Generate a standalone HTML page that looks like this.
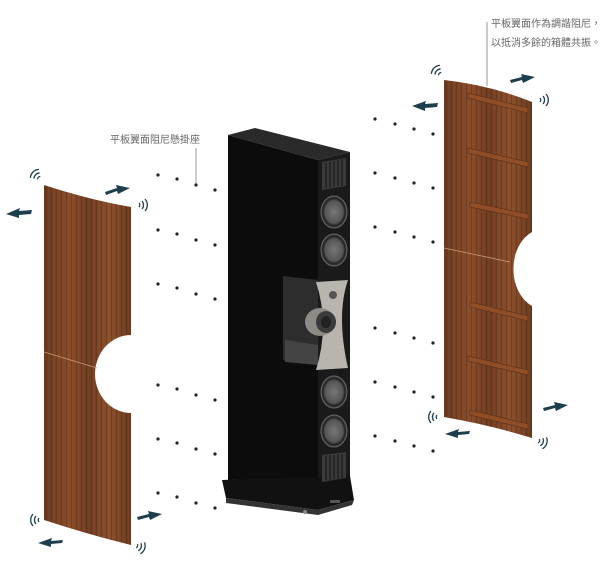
<!DOCTYPE html>
<html><head><meta charset="utf-8"><style>
html,body{margin:0;padding:0;background:#fff;width:600px;height:563px;overflow:hidden}
svg{display:block}
text{font-family:"Liberation Sans","Noto Sans CJK TC",sans-serif;font-size:10px;fill:#666}
</style></head><body>
<svg width="600" height="563" viewBox="0 0 600 563" xmlns="http://www.w3.org/2000/svg">
<defs>
<linearGradient id="wood" x1="0" x2="1" y1="0" y2="0">
<stop offset="0" stop-color="#6b3a20"/><stop offset="0.3" stop-color="#8a4d2a"/><stop offset="0.5" stop-color="#6e3c20"/><stop offset="0.75" stop-color="#8b4f2c"/><stop offset="1" stop-color="#6a3a1f"/>
</linearGradient>
<pattern id="grain" width="5" height="10" patternUnits="userSpaceOnUse">
<rect width="5" height="10" fill="none"/><rect x="1" width="1" height="10" fill="#4a2612" opacity="0.35"/><rect x="3.5" width="0.6" height="10" fill="#a0603a" opacity="0.3"/>
</pattern>
<radialGradient id="drv"><stop offset="0" stop-color="#777"/><stop offset="0.7" stop-color="#555"/><stop offset="0.85" stop-color="#222"/><stop offset="1" stop-color="#444"/></radialGradient>
</defs>

<!-- labels -->
<text x="491" y="27">平板翼面作為調諧阻尼，</text>
<text x="491" y="46">以抵消多餘的箱體共振。</text>
<line x1="487" y1="22" x2="487" y2="86" stroke="#999" stroke-width="1"/>
<text x="110" y="143">平板翼面阻尼懸掛座</text>
<line x1="196" y1="148" x2="196" y2="185" stroke="#999" stroke-width="1"/>

<!-- dots -->
<g fill="#222">
<g id="ld">
<circle cx="158" cy="175" r="1.6"/><circle cx="177" cy="179" r="1.6"/><circle cx="196" cy="185" r="1.6"/><circle cx="215" cy="190" r="1.6"/>
</g>
<use href="#ld" y="55"/><use href="#ld" y="109"/><use href="#ld" y="210"/><use href="#ld" y="264"/><use href="#ld" y="318"/>
<g id="rd">
<circle cx="375" cy="119" r="1.6"/><circle cx="395" cy="124" r="1.6"/><circle cx="414" cy="129" r="1.6"/><circle cx="433" cy="134" r="1.6"/>
</g>
<use href="#rd" y="54"/><use href="#rd" y="108"/><use href="#rd" y="209"/><use href="#rd" y="263"/><use href="#rd" y="317"/>
</g>

<!-- left panel -->
<g>
<path d="M44 185 Q90 200 131 207 L131 335 A36 39 0 0 0 131 413 L131 545 Q90 535 44 520 Z" fill="url(#wood)"/>
<path d="M44 185 Q90 200 131 207 L131 335 A36 39 0 0 0 131 413 L131 545 Q90 535 44 520 Z" fill="url(#grain)"/>
<line x1="44" y1="352" x2="97" y2="368" stroke="#c99a78" stroke-width="0.8"/>
</g>

<!-- right panel -->
<g>
<path d="M444 80 Q490 85 532 102 L532 232 A30 40 0 0 0 532 306 L532 438 Q490 425 444 417 Z" fill="url(#wood)"/>
<path d="M444 80 Q490 85 532 102 L532 232 A30 40 0 0 0 532 306 L532 438 Q490 425 444 417 Z" fill="url(#grain)"/>
<line x1="444" y1="248" x2="510" y2="262" stroke="#c99a78" stroke-width="0.8"/>
<g fill="#8f4e28" stroke="#5a2e16" stroke-width="0.6">
<path d="M468 93 L528 108 L528 113 L468 98Z"/><path d="M468 148 L528 162 L528 167 L468 153Z"/><path d="M470 202 L528 214 L528 219 L470 207Z"/>
<path d="M470 302 L528 316 L528 321 L470 307Z"/><path d="M468 356 L528 370 L528 375 L468 361Z"/><path d="M470 410 L528 424 L528 429 L470 415Z"/>
</g>
</g>

<!-- speaker -->
<g>
<path d="M228 135 L255 128 L350 152 L318 160 Z" fill="#2a2a2a"/>
<path d="M228 135 L318 160 L318 478 L228 480 Z" fill="#0c0c0c"/>
<path d="M318 160 L350 152 L350 478 L318 482 Z" fill="#1a1a1a"/>
<path d="M222 480 L350 476 L354 500 L318 510 L226 498 Z" fill="#111"/>
<path d="M226 498 L318 510 L354 500 L352 505 L318 515 L226 503Z" fill="#333"/>
<circle cx="305" cy="512" r="2" fill="#888"/>
<rect x="330" y="500" width="10" height="3" fill="#555"/>
<!-- vents -->
<path d="M322 162 L346 158 L346 186 L322 190 Z" fill="#3a3a3a"/>
<g stroke="#111" stroke-width="1"><line x1="326" y1="163" x2="326" y2="188"/><line x1="330" y1="162" x2="330" y2="188"/><line x1="334" y1="161" x2="334" y2="187"/><line x1="338" y1="160" x2="338" y2="186"/><line x1="342" y1="159" x2="342" y2="186"/></g>
<path d="M322 455 L346 452 L346 478 L322 482 Z" fill="#3a3a3a"/>
<g stroke="#111" stroke-width="1"><line x1="326" y1="456" x2="326" y2="480"/><line x1="330" y1="455" x2="330" y2="480"/><line x1="334" y1="455" x2="334" y2="479"/><line x1="338" y1="454" x2="338" y2="479"/><line x1="342" y1="454" x2="342" y2="478"/></g>
<!-- drivers -->
<ellipse cx="334" cy="212" rx="13" ry="16" fill="url(#drv)" stroke="#666" stroke-width="1"/>
<ellipse cx="334" cy="250" rx="13" ry="16" fill="url(#drv)" stroke="#666" stroke-width="1"/>
<ellipse cx="334" cy="392" rx="13" ry="16" fill="url(#drv)" stroke="#666" stroke-width="1"/>
<ellipse cx="334" cy="431" rx="13" ry="16" fill="url(#drv)" stroke="#666" stroke-width="1"/>
<!-- midsection -->
<path d="M283 276 L318 280 L318 365 L283 360 Z" fill="#2d2d2d"/>
<path d="M285 340 L318 345 L318 365 L285 362 Z" fill="#444"/>
<path d="M316 282 L348 280 Q336 315 348 368 L316 370 Q330 325 316 282 Z" fill="#b8b4ae"/>
<circle cx="333" cy="295" r="4" fill="#555"/>
<ellipse cx="320" cy="322" rx="15" ry="14" fill="#8e8a86"/>
<ellipse cx="326" cy="322" rx="10" ry="11" fill="#3a3a3a"/>
<ellipse cx="326" cy="322" rx="5" ry="6" fill="#222"/>
</g>

<!-- arrows -->
<g fill="#1d3f4d">
<path d="M6 214 L20 208 L19 211 L32 210 L31 214 L19 215 L19 218Z"/>
<path d="M105 192 L117 188 L116 185 L130 188 L118 194 L117 191 L106 195Z"/>
<path d="M38 543 L52 538 L51 541 L63 540 L62 543 L51 544 L51 547Z"/>
<path d="M137 517 L149 514 L148 511 L162 514 L150 520 L149 517 L138 520Z"/>
<path d="M412 106 L426 101 L425 104 L438 103 L437 107 L425 108 L425 111Z"/>
<path d="M510 80 L522 77 L521 74 L535 77 L523 83 L522 80 L511 83Z"/>
<path d="M445 434 L459 429 L458 432 L470 431 L469 434 L458 435 L458 438Z"/>
<path d="M543 408 L555 405 L554 402 L568 405 L556 411 L555 408 L544 411Z"/>
</g>

<!-- vibration marks -->
<g fill="none" stroke="#1d3f4d" stroke-width="1.3">
<g transform="translate(41,180) rotate(-135)"><path d="M3 -2 A3 3 0 0 1 3 2"/><path d="M6 -4 A6 6 0 0 1 6 4"/><path d="M9 -6 A9 9 0 0 1 9 6"/></g>
<g transform="translate(136,205)"><path d="M3 -2 A3 3 0 0 1 3 2"/><path d="M6 -4 A6 6 0 0 1 6 4"/><path d="M9 -6 A9 9 0 0 1 9 6"/></g>
<g transform="translate(42,520) rotate(180)"><path d="M3 -2 A3 3 0 0 1 3 2"/><path d="M6 -4 A6 6 0 0 1 6 4"/><path d="M9 -6 A9 9 0 0 1 9 6"/></g>
<g transform="translate(134,545) rotate(20)"><path d="M3 -2 A3 3 0 0 1 3 2"/><path d="M6 -4 A6 6 0 0 1 6 4"/><path d="M9 -6 A9 9 0 0 1 9 6"/></g>
<g transform="translate(442,76) rotate(-135)"><path d="M3 -2 A3 3 0 0 1 3 2"/><path d="M6 -4 A6 6 0 0 1 6 4"/><path d="M9 -6 A9 9 0 0 1 9 6"/></g>
<g transform="translate(537,100)"><path d="M3 -2 A3 3 0 0 1 3 2"/><path d="M6 -4 A6 6 0 0 1 6 4"/><path d="M9 -6 A9 9 0 0 1 9 6"/></g>
<g transform="translate(440,417) rotate(180)"><path d="M3 -2 A3 3 0 0 1 3 2"/><path d="M6 -4 A6 6 0 0 1 6 4"/><path d="M9 -6 A9 9 0 0 1 9 6"/></g>
<g transform="translate(536,440) rotate(20)"><path d="M3 -2 A3 3 0 0 1 3 2"/><path d="M6 -4 A6 6 0 0 1 6 4"/><path d="M9 -6 A9 9 0 0 1 9 6"/></g>
</g>
</svg>
</body></html>
